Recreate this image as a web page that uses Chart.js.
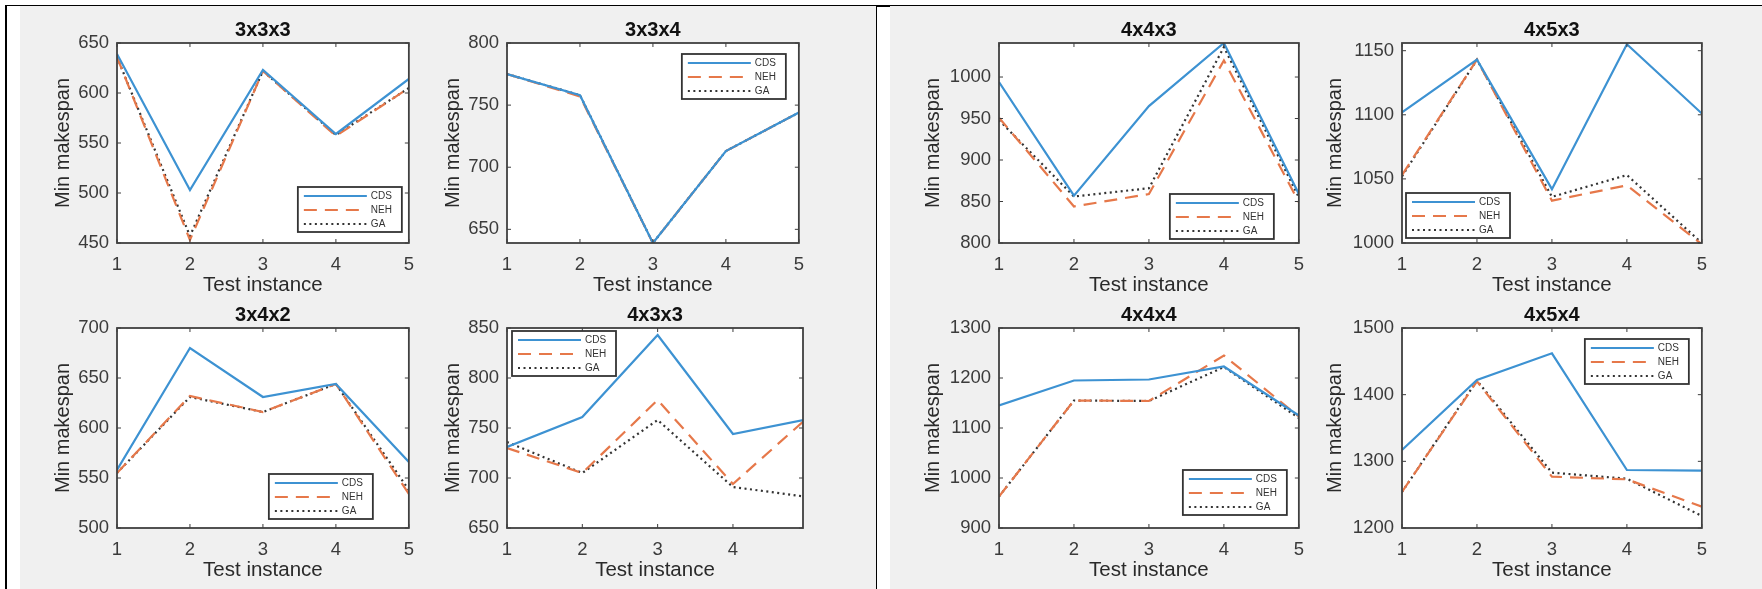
<!DOCTYPE html>
<html><head><meta charset="utf-8">
<script src="https://cdn.jsdelivr.net/npm/chart.js@4.4.1/dist/chart.umd.min.js"></script>
<style>
html,body{margin:0;padding:0;background:#fff;width:1762px;height:589px;overflow:hidden;position:relative;}
.fr{position:absolute;}
canvas{position:absolute;}
</style></head><body>
<div class="fr" style="left:20px;top:6px;width:856px;height:583px;background:#f0f0f0"></div>
<div class="fr" style="left:890px;top:6px;width:872px;height:583px;background:#f0f0f0"></div>
<div class="fr" style="left:5px;top:5px;width:1757px;height:1px;background:#000"></div>
<div class="fr" style="left:5px;top:5px;width:2px;height:584px;background:#000"></div>
<div class="fr" style="left:876px;top:5px;width:1px;height:584px;background:#000"></div>
<div class="fr" style="left:876px;top:5px;width:14px;height:2px;background:#000"></div>
<script>
// ---- data ----
const instances = [1, 2, 3, 4, 5];
const seriesNames = ['CDS', 'NEH', 'GA'];
const titles = ['3x3x3', '3x3x4', '3x4x2', '4x3x3', '4x4x3', '4x5x3', '4x4x4', '4x5x4'];

const cds_333 = [639, 503, 623, 559, 614];
const neh_333 = [636, 453, 622, 557, 605];
const ga_333  = [636, 457, 622, 558, 605];

const cds_334 = [775, 758, 639, 713, 744];
const neh_334 = [775, 757, 639, 713, 744];
const ga_334  = [775, 758, 639, 713, 744];

const cds_342 = [558, 680, 631, 644, 566];
const neh_342 = [555, 632, 616, 644, 534];
const ga_342  = [555, 631, 616, 644, 538];

const cds_433 = [731, 761, 843, 744, 759];
const neh_433 = [730, 705, 778, 694, 761];
const ga_433  = [736, 705, 758, 691, 681];

const cds_443 = [994, 857, 965, 1041, 859];
const neh_443 = [951, 844, 859, 1020, 849];
const ga_443  = [948, 856, 866, 1036, 855];

const cds_453 = [1102, 1143, 1042, 1155, 1101];
const neh_453 = [1053, 1143, 1033, 1045, 999];
const ga_453  = [1052, 1143, 1036, 1053, 1000];

const cds_444 = [1145, 1195, 1197, 1223, 1125];
const neh_444 = [963, 1155, 1154, 1245, 1123];
const ga_444  = [963, 1155, 1154, 1222, 1120];

const cds_454 = [1317, 1422, 1462, 1287, 1286];
const neh_454 = [1254, 1420, 1277, 1273, 1232];
const ga_454  = [1254, 1421, 1283, 1274, 1218];

// y-axis limits and tick steps per panel
const yMins  = [450, 639, 500, 650, 800, 1000, 900, 1200];
const yMaxs  = [650, 800, 700, 850, 1041, 1156, 1300, 1500];
const ySteps = [50, 50, 50, 50, 50, 50, 100, 100];
const xMaxs  = [5, 5, 5, 4.93, 5, 5, 5, 5];

const panelSeries = [
  [cds_333, neh_333, ga_333], [cds_334, neh_334, ga_334],
  [cds_342, neh_342, ga_342], [cds_433, neh_433, ga_433],
  [cds_443, neh_443, ga_443], [cds_453, neh_453, ga_453],
  [cds_444, neh_444, ga_444], [cds_454, neh_454, ga_454]
];

// ---- layout (pixels) ----
const boxes = [ // L, T, R, B, ylabel centre x
  [117, 43, 413, 243, 63], [507, 43, 803, 243, 453],
  [117, 328, 413, 528, 63], [507, 328, 803, 528, 453],
  [999, 43, 1303, 243, 933], [1402, 43, 1706, 243, 1335],
  [999, 328, 1303, 528, 933], [1402, 328, 1706, 528, 1335]
];
const legendPlaces = [ // corner, dx, dy
  ['br', 7, 11], ['tr', 13, 11], ['br', 36, 9], ['tl', 5, 3],
  ['br', 25, 4], ['bl', 4, 5], ['br', 12, 13], ['tr', 13, 11]
];

const FONT = 'Liberation Sans, Arial, sans-serif';
const styles = [
  {borderColor: '#3d92d2', borderWidth: 2.2, borderDash: []},
  {borderColor: '#e6784a', borderWidth: 2.2, borderDash: [13, 8]},
  {borderColor: '#333333', borderWidth: 2.2, borderDash: [2, 3.5]}
];

const framePlugin = {
  id: 'frame',
  beforeDraw(chart) {
    const {ctx, chartArea: a} = chart;
    ctx.save();
    ctx.fillStyle = '#ffffff';
    ctx.fillRect(a.left, a.top, a.right - a.left, a.bottom - a.top);
    ctx.restore();
  },
  afterDatasetsDraw(chart, args, opts) {
    const {ctx, chartArea: a, scales: {x, y}} = chart;
    ctx.save();
    ctx.strokeStyle = '#3c3c3c';
    ctx.lineWidth = 1;
    const t = 4;
    ctx.beginPath();
    x.ticks.forEach(tk => {
      const px = x.getPixelForValue(tk.value);
      ctx.moveTo(px, a.bottom); ctx.lineTo(px, a.bottom - t);
      ctx.moveTo(px, a.top); ctx.lineTo(px, a.top + t);
    });
    y.ticks.forEach(tk => {
      const py = y.getPixelForValue(tk.value);
      ctx.moveTo(a.left, py); ctx.lineTo(a.left + t, py);
      ctx.moveTo(a.right, py); ctx.lineTo(a.right - t, py);
    });
    ctx.stroke();
    ctx.lineWidth = 1.8;
    ctx.strokeStyle = '#404040';
    ctx.strokeRect(a.left, a.top, a.right - a.left, a.bottom - a.top);

    // legend inside the axes
    const [corner, dx, dy] = opts.place;
    const w = 104, h = 45;
    const bx = corner[1] === 'r' ? a.right - dx - w : a.left + dx;
    const by = corner[0] === 'b' ? a.bottom - dy - h : a.top + dy;
    ctx.fillStyle = '#ffffff';
    ctx.fillRect(bx, by, w, h);
    ctx.lineWidth = 1.8;
    ctx.strokeStyle = '#333333';
    ctx.setLineDash([]);
    ctx.strokeRect(bx, by, w, h);
    chart.data.datasets.forEach((ds, i) => {
      const ry = by + 9 + i * 14;
      ctx.save();
      ctx.strokeStyle = ds.borderColor;
      ctx.lineWidth = ds.borderWidth;
      ctx.setLineDash(ds.borderDash || []);
      ctx.beginPath();
      ctx.moveTo(bx + 6, ry); ctx.lineTo(bx + 69, ry);
      ctx.stroke();
      ctx.restore();
      ctx.fillStyle = '#333333';
      ctx.font = '10px ' + FONT;
      ctx.textBaseline = 'middle';
      ctx.textAlign = 'left';
      ctx.fillText(ds.label, bx + 73, ry + 0.5);
    });
    ctx.restore();
  }
};

function makeChart(k) {
  const [L, T, R, B, ylx] = boxes[k];
  const left = ylx - 12, top = T - 42;
  const W = R + 12 - left, H = B + 56 - top;
  const cv = document.createElement('canvas');
  cv.width = W; cv.height = H;
  cv.style.left = left + 'px'; cv.style.top = top + 'px';
  cv.style.width = W + 'px'; cv.style.height = H + 'px';
  document.body.appendChild(cv);
  const yW = L - left;
  const datasets = panelSeries[k].map((vals, i) => Object.assign({
    label: seriesNames[i],
    data: instances.map((xv, j) => ({x: xv, y: vals[j]})),
    pointRadius: 0, fill: false, tension: 0, borderCapStyle: 'butt'
  }, styles[i]));
  new Chart(cv, {
    type: 'line',
    data: {datasets},
    options: {
      responsive: false, animation: false, devicePixelRatio: 1,
      layout: {padding: {left: 0, top: 0, right: 12, bottom: 0}},
      plugins: {
        legend: {display: false},
        tooltip: {enabled: false},
        title: {display: true, text: titles[k], fullSize: false, color: '#111',
          font: {family: FONT, size: 20, weight: 'bold'}, padding: {top: 17.5, bottom: 0.5}},
        frame: {place: legendPlaces[k]}
      },
      scales: {
        x: {
          type: 'linear', min: 1, max: xMaxs[k],
          ticks: {stepSize: 1, includeBounds: false, padding: 11, color: '#3b3b3b',
            font: {family: FONT, size: 18.5}, maxRotation: 0, autoSkip: false,
            callback: v => String(v)},
          grid: {display: false, drawTicks: false}, border: {display: false},
          title: {display: true, text: 'Test instance', color: '#2a2a2a',
            font: {family: FONT, size: 20.5}, padding: {top: 0, bottom: 1.5}},
          afterFit(s) { s.height = 56; }
        },
        y: {
          min: yMins[k], max: yMaxs[k],
          ticks: {stepSize: ySteps[k], includeBounds: false, padding: 8, color: '#3b3b3b',
            font: {family: FONT, size: 18.5}, callback: v => String(v)},
          grid: {display: false, drawTicks: false}, border: {display: false},
          title: {display: true, text: 'Min makespan', color: '#2a2a2a',
            font: {family: FONT, size: 20}, padding: {top: 0, bottom: 0}},
          afterFit(s) { s.width = yW; }
        }
      }
    },
    plugins: [framePlugin]
  });
}
for (let k = 0; k < 8; k++) makeChart(k);
</script>
</body></html>
